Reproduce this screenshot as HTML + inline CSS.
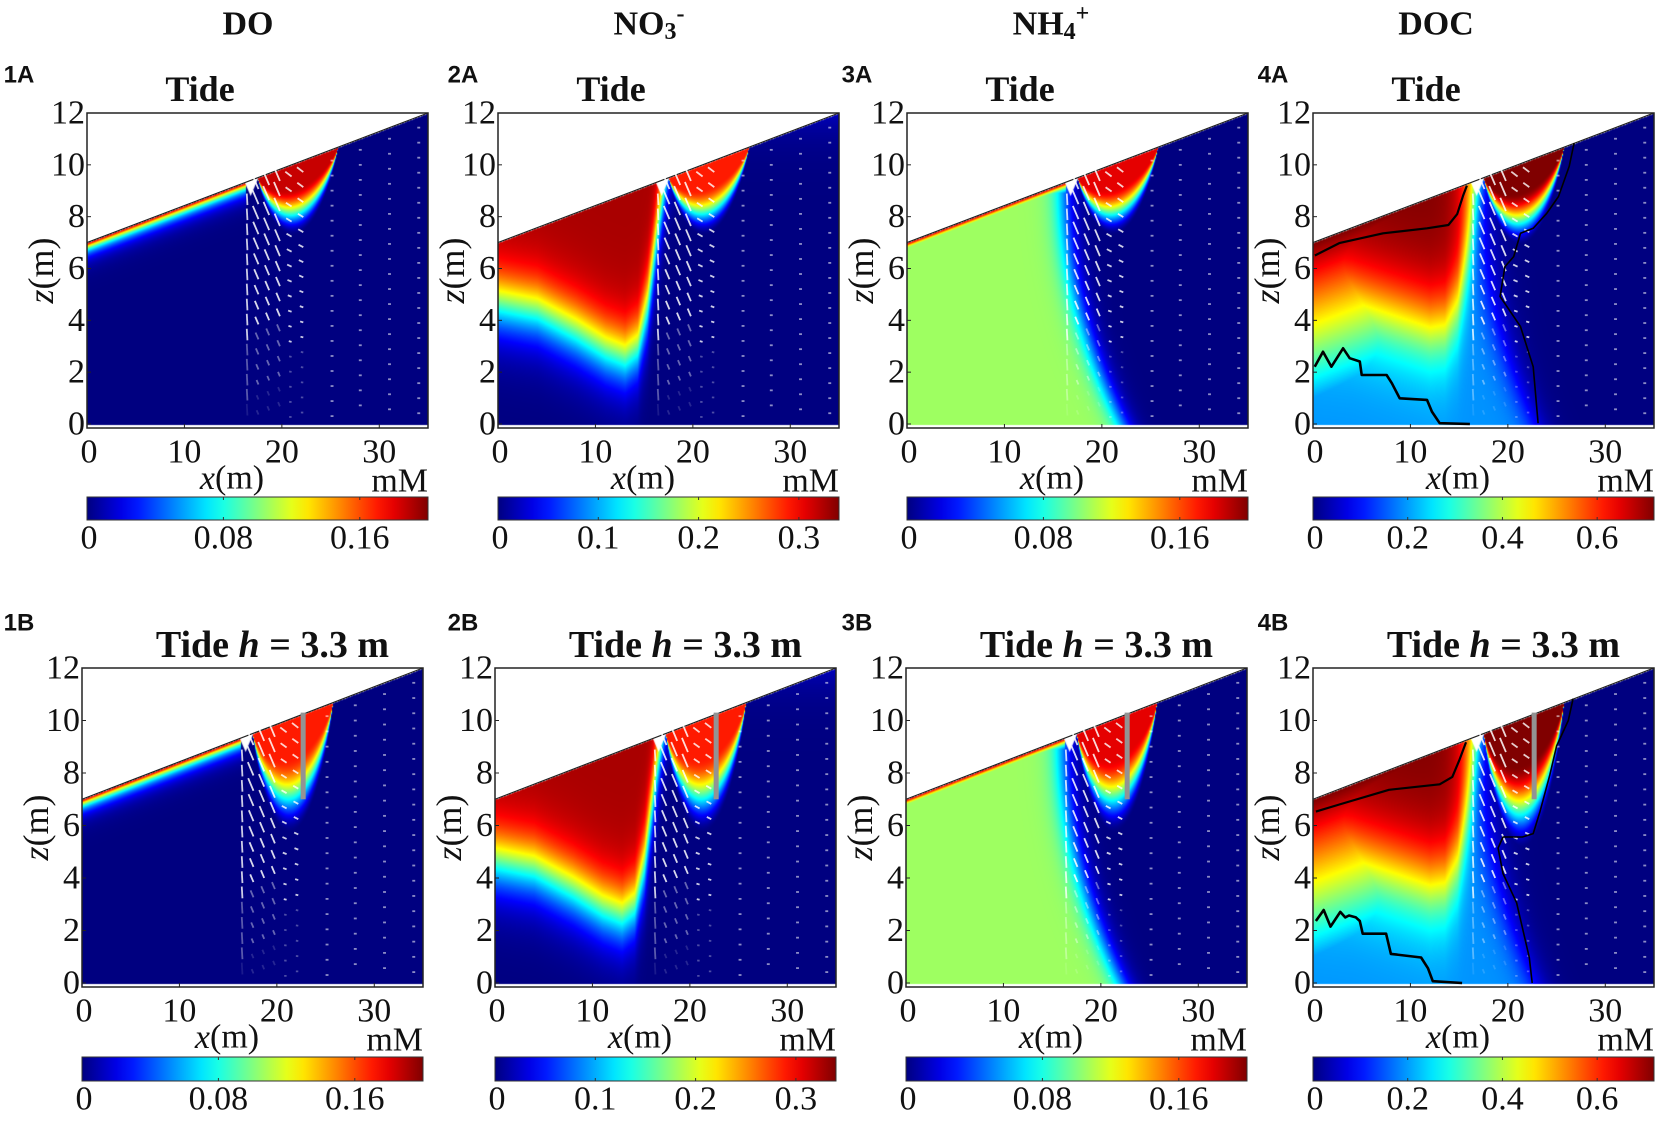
<!DOCTYPE html>
<html><head><meta charset="utf-8">
<style>
html,body{margin:0;padding:0;background:#fff;}
#wrap{position:relative;width:1666px;height:1121px;overflow:hidden;background:#fff;}
canvas{position:absolute;}
svg{position:absolute;left:0;top:0;}
</style></head>
<body>
<div id="wrap">
<svg id="ov" width="1666" height="1121"></svg>
</div>
<script>
// ---- data arrays ----
const variables = ['DO','NO3','NH4','DOC'];
const cbMax = [0.2, 0.34, 0.2, 0.72];
const cbTicks = [[0,0.08,0.16],[0,0.1,0.2,0.3],[0,0.08,0.16],[0,0.2,0.4,0.6]];
const cbTickLabels = [['0','0.08','0.16'],['0','0.1','0.2','0.3'],['0','0.08','0.16'],['0','0.2','0.4','0.6']];
const xTicks = [0,10,20,30];
const zTicks = [0,2,4,6,8,10,12];
// NO3 mid-contour depth vs x
const no3BX = [0,4,8,11,13,14.3,15.3,16.3,17.5,20];
const no3BZ = [4.7,4.4,3.6,2.9,2.6,3.0,4.6,7.5,10.5,14];
// DOC yellow contour depth vs x
const docBX = [0,4,8,12,13.5,14.8,16,17.5,20];
const docBZ = [5.0,4.8,4.3,3.8,3.9,4.8,7.0,10,14];
// DOC contour lines (x,z pairs)
const docSurfA_x=[0.2,2.7,7.2,11.7,13.9,14.8,15.4,15.8];
const docSurfA_z=[6.5,6.98,7.36,7.55,7.68,8.1,8.8,9.2];
const docPlumeA_x=[26.8,26.3,25.2,24.0,22.6,21.3,20.6,19.7,19.2,21.3,22.6,23.1];
const docPlumeA_z=[10.84,9.94,8.78,8.13,7.55,7.36,6.46,6.07,4.92,3.76,2.21,0.03];
const docStepA_x=[0.17,1.03,1.89,3.09,3.77,4.8,5.0,7.55,8.1,8.9,11.7,12.2,13.0,16.1];
const docStepA_z=[2.21,2.79,2.21,2.92,2.54,2.41,1.89,1.89,1.57,0.99,0.93,0.48,0.03,0];
const docSurfB_x=[0.3,2.7,7.8,13.0,14.3,15.0,15.7];
const docSurfB_z=[6.53,6.8,7.36,7.57,7.85,8.47,9.17];
const docPlumeB_x=[26.7,26.2,25.0,24.3,23.3,22.6,21.5,19.5,19.0,19.5,20.9,22.2,22.5];
const docPlumeB_z=[10.83,10.0,9.03,7.92,6.53,5.69,5.56,5.56,5.14,4.17,3.06,0.97,0];
const docStepB_x=[0.3,1.1,1.8,2.8,3.3,3.7,4.4,4.8,5.1,7.5,8.0,11.1,11.8,12.3,15.3];
const docStepB_z=[2.36,2.78,2.15,2.71,2.5,2.57,2.5,2.36,1.88,1.88,1.11,0.97,0.56,0.07,0];
// arrow columns (m)
const arrowCols=[16.4,17.6,18.7,19.8,21.0,22.2,25.3,28.2,31.2,34.2];

// ---- geometry ----
const rows=[{key:'A',lefts:[87,498,907,1313],top:113,bottom:428,cbY:497,cbH:23,plumeD:1.9,labelY:75},
            {key:'B',lefts:[82,495,906,1313],top:668,bottom:987,cbY:1057,cbH:24,plumeD:3.0,labelY:623}];
const W=341;
const titleX=[248,649,1051,1436];
const labelX=[19,463,857,1273];

function clamp(v){return v<0?0:v>1?1:v;}
function jet(t){t=clamp(t);return [clamp(1.5-Math.abs(4*t-3)),clamp(1.5-Math.abs(4*t-2)),clamp(1.5-Math.abs(4*t-1))];}
function S(u){return 1/(1+Math.exp(-u));}
function interp(xs,ys,x){if(x<=xs[0])return ys[0];for(let i=1;i<xs.length;i++){if(x<=xs[i]){const f=(x-xs[i-1])/(xs[i]-xs[i-1]);return ys[i-1]+f*(ys[i]-ys[i-1]);}}return ys[ys.length-1];}
function smooth(a,b,x){const t=clamp((x-a)/(b-a));return t*t*(3-2*t);}
function zs(x){return 7+x/7;}
function plume(x,z,D){const xc=21.6,hw=4.1;const u=(x-xc)/hw;const f=1-u*u;if(f<=0)return 0;const d=zs(x)-z;const q=d/(D*Math.pow(f,0.8));return 1-smooth(0.5,1.45,q);}

function field(v,x,z,row){
  const d=zs(x)-z;const D=row.plumeD;let t=0;
  if(v==='DO'){
    let lay=x<16.3?0.97*Math.exp(-d/0.28):0;
    let p=plume(x,z,D)*(row.key==='B'?0.85:0.93);
    t=Math.max(lay,p);
  }else if(v==='NO3'){
    const b=interp(no3BX,no3BZ,x);
    let l=0.96*S((z-b)/0.75);
    t=Math.max(l,0.85*plume(x,z,D));
  }else if(v==='NH4'){
    const B=16+0.07*Math.pow(Math.max(0,9.3-z),2);
    let g=0.53*S((B-x)/0.7);
    let lay=x<16.3?0.97*Math.exp(-d/0.28):0;
    t=Math.max(g,lay,0.9*plume(x,z,D));
  }else{
    const b=interp(docBX,docBZ,x);
    const B=17.0+0.065*Math.pow(Math.max(0,9.3-z),2);
    let base=0.27+0.73*S((z-b)/1.0);
    if(x<14.8) base=Math.max(base,1-d*0.12);
    let L=S((B-x)/0.9);
    let l=base*L;
    t=Math.max(l,plume(x,z,D*1.15));
  }
  return t;
}

const wrap=document.getElementById('wrap');
const ov=document.getElementById('ov');
const NS='http://www.w3.org/2000/svg';
function mk(tag,attrs,parent){const e=document.createElementNS(NS,tag);for(const k in attrs)e.setAttribute(k,attrs[k]);(parent||ov).appendChild(e);return e;}
function txt(s,x,y,size,opts,parent){opts=opts||{};const e=mk('text',{x:x,y:y,'font-size':size,'font-family':opts.sans?'Liberation Sans, sans-serif':'Liberation Serif, serif','font-weight':opts.bold?'bold':'normal','text-anchor':opts.anchor||'middle','dominant-baseline':'central',fill:'#111'},parent);if(opts.italic)e.setAttribute('font-style','italic');e.textContent=s;return e;}

const tDO=txt('DO',titleX[0],24,34,{bold:true});


const tNO=txt('',titleX[1],24,34,{bold:true});


tNO.innerHTML='NO<tspan font-size="24" dy="8">3</tspan><tspan font-size="24" dy="-18">-</tspan>';
const tNH=txt('',titleX[2],24,34,{bold:true});


tNH.innerHTML='NH<tspan font-size="24" dy="8">4</tspan><tspan font-size="24" dy="-18">+</tspan>';
const tDOC=txt('DOC',titleX[3],24,34,{bold:true});



function poly(xs,zs_,X,Z,g,w){let p='';for(let i=0;i<xs.length;i++)p+=(i?'L':'M')+X(xs[i]).toFixed(1)+' '+Z(zs_[i]).toFixed(1);return mk('path',{d:p,fill:'none',stroke:'#000','stroke-width':w,'stroke-linejoin':'round'},g);}

rows.forEach(row=>{
  const H=row.bottom-row.top;
  variables.forEach((v,ci)=>{
    const left=row.lefts[ci];
    const X=x=>left+x/35*W;
    const Z=z=>row.top+(12-z)/12*(H-4);
    const g=mk('g',{});
    
    
    const cv=document.createElement('canvas');
    cv.width=W;cv.height=H;cv.style.left=left+'px';cv.style.top=row.top+'px';
    
    
    wrap.insertBefore(cv,ov);
    const ctx=cv.getContext('2d');const img=ctx.createImageData(W,H);
    for(let py=0;py<H;py++){
      const z=12-py/(H-4)*12;
      for(let px=0;px<W;px++){
        const x=px/W*35;const k=(py*W+px)*4;
        if(z<0||z>zs(x)){img.data[k]=255;img.data[k+1]=255;img.data[k+2]=255;img.data[k+3]=255;continue;}
        const c=jet(field(v,x,z,row));
        img.data[k]=c[0]*255;img.data[k+1]=c[1]*255;img.data[k+2]=c[2]*255;img.data[k+3]=255;
      }
    }
    ctx.putImageData(img,0,0);
    ctx.fillStyle='#fff';ctx.beginPath();
    ctx.moveTo((16.2/35)*W,(12-zs(16.2))/12*(H-4));ctx.lineTo((16.8/35)*W,(12-(zs(16.8)-0.6))/12*(H-4));ctx.lineTo((17.6/35)*W,(12-zs(17.6))/12*(H-4));ctx.fill();
    mk('line',{x1:X(0),y1:Z(7),x2:X(35),y2:Z(12),stroke:'#222','stroke-width':1.2},g);
    arrowCols.forEach(ax=>{
      for(let z=zs(ax)-0.45;z>0.2;z-=0.58){
        let dx,dz,len,op;
        const d=zs(ax)-z;
        if(ax<17){dx=0.15;dz=-1;len=0.45;op=d<6?0.8:(d<8?0.35:0.1);}
        else if(ax<20.5){dx=-0.75;dz=0.66;len=Math.max(0.25,0.9-d*0.08);op=d<6?0.85:(d<8?0.4:0.15);}
        else if(ax<23){dx=-1;dz=0.3-d*0.03;len=Math.max(0.25,0.7-d*0.06);op=d<7?0.8:0.3;}
        else {dx=-1;dz=0;len=0.3;op=0.55;}
        const n=Math.hypot(dx,dz);dx/=n;dz/=n;
        const x1=X(ax),y1=Z(z),x2=X(ax+dx*len),y2=Z(z+dz*len);
        const a=mk('line',{x1:x1,y1:y1,x2:x2,y2:y2,stroke:'#fff','stroke-width':1.8,'stroke-opacity':op},g);
        
        
      }
    });
    if(row.key==='B'){
      const wb=mk('rect',{x:X(22.7)-2.5,y:Z(10.3),width:5,height:Z(7)-Z(10.3),fill:'#939393'},g);
      
      
    }
    if(v==='DOC'){
      const A=row.key==='A';
      const c1=poly(A?docSurfA_x:docSurfB_x,A?docSurfA_z:docSurfB_z,X,Z,g,2.2);
      
      
      const c2=poly(A?docPlumeA_x:docPlumeB_x,A?docPlumeA_z:docPlumeB_z,X,Z,g,1.6);
      
      
      const c3=poly(A?docStepA_x:docStepB_x,A?docStepA_z:docStepB_z,X,Z,g,2.6);
      
      
    }
    mk('rect',{x:left,y:row.top,width:W,height:H,fill:'none',stroke:'#222','stroke-width':1.5},g);
    zTicks.forEach(t=>{
      mk('line',{x1:left,y1:Z(t),x2:left+4,y2:Z(t),stroke:'#222','stroke-width':1},g);
      const l=txt(String(t),left-2,Z(t),34,{anchor:'end'},g);
      
      
    });
    xTicks.forEach(t=>{
      mk('line',{x1:X(t),y1:row.bottom,x2:X(t),y2:row.bottom-4,stroke:'#222','stroke-width':1},g);
      const l=txt(String(t),X(t)+(t===0?2:0),row.bottom+24,34,{},g);
      
      
    });
    const xl=txt('',left+145,row.bottom+50,34,{},g);
    xl.innerHTML='<tspan font-style="italic">x</tspan>(m)';
    
    
    const mm=txt('mM',left+W,row.bottom+53,34,{anchor:'end'},g);
    
    
    const zl=txt('',0,0,36,{},g);
    zl.innerHTML='<tspan font-style="italic">z</tspan>(m)';
    zl.setAttribute('transform','translate('+(left-46)+','+(row.top+H*0.5)+') rotate(-90)');
    
    
    const gid='cbg'+ci+row.key;
    const defs=mk('defs',{},g);
    const lg=mk('linearGradient',{id:gid,x1:0,x2:1,y1:0,y2:0},defs);
    for(let i=0;i<=20;i++){const c=jet(i/20);mk('stop',{offset:i/20,'stop-color':'rgb('+Math.round(c[0]*255)+','+Math.round(c[1]*255)+','+Math.round(c[2]*255)+')'},lg);}
    const cb=mk('rect',{x:left,y:row.cbY,width:W,height:row.cbH,fill:'url(#'+gid+')',stroke:'#333','stroke-width':1},g);
    
    
    cbTicks[ci].forEach((t,i)=>{
      const cx=left+t/cbMax[ci]*W;
      mk('line',{x1:cx,y1:row.cbY,x2:cx,y2:row.cbY+3,stroke:'#333','stroke-width':1},g);
      mk('line',{x1:cx,y1:row.cbY+row.cbH,x2:cx,y2:row.cbY+row.cbH-3,stroke:'#333','stroke-width':1},g);
      const l=txt(cbTickLabels[ci][i],cx+(t===0?2:0),row.cbY+row.cbH+18,34,{},g);
      
      
    });
    const pl=txt((ci+1)+row.key,labelX[ci],row.labelY,24,{sans:true,bold:true},g);
    
    
    if(row.key==='A'){
      const tt=txt('Tide',left+113,89,36,{bold:true},g);
      
      
    }else{
      const tt=txt('',left+W-34,645,38,{bold:true,anchor:'end'},g);
      tt.innerHTML='Tide <tspan font-style="italic">h</tspan> = 3.3 m';
      
      
    }
  });
});
</script>
</body></html>
